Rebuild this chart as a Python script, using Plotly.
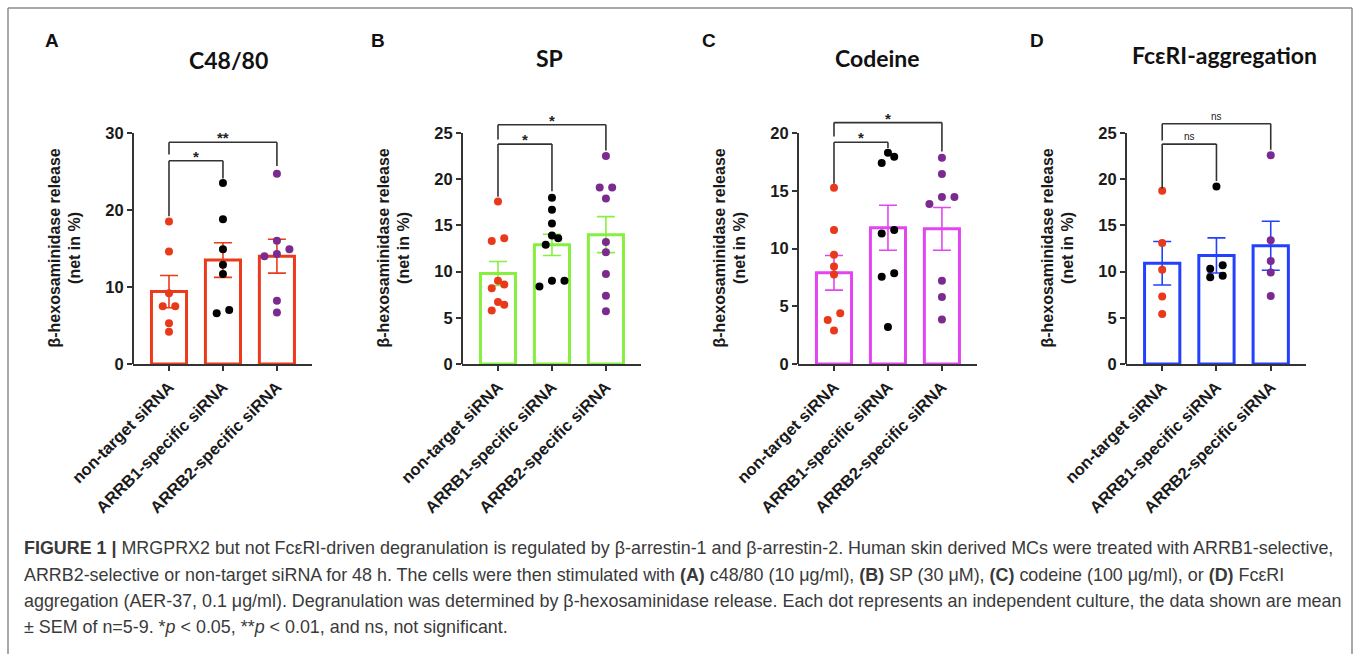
import plotly.graph_objects as go

# ---------------- data ----------------
categories = ["non-target siRNA", "ARRB1-specific siRNA", "ARRB2-specific siRNA"]

A_nt = [18.5, 14.6, 9.2, 7.5, 7.5, 5.3, 4.2]
A_b1 = [23.5, 18.8, 14.9, 12.9, 11.7, 7.0, 6.6]
A_b2 = [24.7, 16.0, 14.9, 14.3, 14.0, 8.2, 6.7]
A_mean = [9.4, 13.5, 14.0]
A_sem = [2.1, 2.25, 2.2]

B_nt = [17.6, 13.6, 13.3, 9.0, 8.6, 8.2, 6.7, 6.4, 5.8]
B_b1 = [18.0, 16.7, 15.2, 13.9, 13.6, 12.9, 9.0, 9.0, 8.4]
B_b2 = [22.5, 19.1, 19.1, 17.9, 13.2, 12.1, 9.75, 7.4, 5.7]
B_mean = [9.8, 12.9, 14.0]
B_sem = [1.3, 1.15, 1.95]

C_nt = [15.25, 11.6, 9.45, 8.45, 7.75, 4.4, 3.8, 2.9]
C_b1 = [18.3, 17.95, 17.4, 11.6, 11.3, 7.85, 7.55, 3.2]
C_b2 = [17.85, 16.45, 14.45, 14.45, 13.85, 7.2, 5.8, 3.85]
C_mean = [7.9, 11.8, 11.7]
C_sem = [1.5, 1.95, 1.85]

D_nt = [18.75, 13.1, 10.2, 7.3, 5.4]
D_b1 = [19.2, 10.7, 10.3, 9.55, 9.4]
D_b2 = [22.6, 13.4, 11.15, 9.9, 7.35]
D_mean = [10.9, 11.75, 12.8]
D_sem = [2.35, 1.9, 2.65]

y_max = [30, 25, 20, 25]
y_ticks = [[0, 10, 20, 30], [0, 5, 10, 15, 20, 25], [0, 5, 10, 15, 20], [0, 5, 10, 15, 20, 25]]
panel_letters = ["A", "B", "C", "D"]
panel_titles = ["C48/80", "SP", "Codeine", "FcεRI-aggregation"]
sig_labels = [["*", "**"], ["*", "*"], ["*", "*"], ["ns", "ns"]]

# ---------------- styling / layout ----------------
W, H = 1357, 654
bar_colors = ["#ec3a1c", "#86ef3f", "#e445f2", "#2340ff"]
dot_colors = ["#e8391b", "#000000", "#7b2b8f"]
panel_px = [(133, 312), (462, 641), (798, 977), (1126, 1306)]
y0_px, ytop_px = 364, 133
x_range = [-0.667, 2.65]
range_top = [30.6, 26.6, 21.6, 26.8]
letter_pos = [(52, 40), (378, 40), (709, 40), (1037, 40)]
title_pos = [(228, 60), (549, 58), (877, 58), (1224, 55)]
# brackets: (i, j, y_horizontal, y_left_end, y_right_end)
brackets = [
    [(0, 1, 26.4, 19.2, 24.1), (0, 2, 28.8, 27.2, 25.7)],
    [(0, 1, 23.8, 18.1, 18.7), (0, 2, 25.9, 24.3, 23.1)],
    [(0, 1, 19.2, 15.6, 18.7), (0, 2, 20.9, 19.7, 18.4)],
    [(0, 1, 23.8, 19.0, 19.8), (0, 2, 26.0, 24.2, 23.2)],
]

groups = [
    (A_nt, A_b1, A_b2, A_mean, A_sem),
    (B_nt, B_b1, B_b2, B_mean, B_sem),
    (C_nt, C_b1, C_b2, C_mean, C_sem),
    (D_nt, D_b1, D_b2, D_mean, D_sem),
]


def swarm(vals, px_per_unit, px_per_cat, diam=7.0, step_px=12.5):
    order = sorted(range(len(vals)), key=lambda i: vals[i])
    offs = [0.0] * len(vals)
    rows, cur = [], [order[0]]
    for i in order[1:]:
        if (vals[i] - vals[cur[0]]) * px_per_unit < diam:
            cur.append(i)
        else:
            rows.append(cur)
            cur = [i]
    rows.append(cur)
    step = step_px / px_per_cat
    for row in rows:
        n = len(row)
        for k, i in enumerate(row):
            offs[i] = (k - (n - 1) / 2) * step
    return offs


fig = go.Figure()
shapes, annotations = [], []
axis_font = dict(family="Liberation Sans, Arial", color="#1a1a1a", weight="bold")

for p in range(4):
    xa = "x" if p == 0 else f"x{p+1}"
    ya = "y" if p == 0 else f"y{p+1}"
    nt, b1, b2, mean, sem = groups[p]
    px0, px1 = panel_px[p]
    px_per_cat = (px1 - px0) / (x_range[1] - x_range[0])
    px_per_unit = (y0_px - ytop_px) / y_max[p]

    fig.add_trace(go.Bar(
        x=[0, 1, 2], y=mean, width=0.65, xaxis=xa, yaxis=ya,
        marker=dict(color="white", line=dict(color=bar_colors[p], width=3)),
        error_y=dict(type="data", array=sem, visible=True, color=bar_colors[p],
                     thickness=1.6, width=9),
        showlegend=False, hoverinfo="skip"))

    for g, vals in enumerate([nt, b1, b2]):
        offs = swarm(vals, px_per_unit, px_per_cat)
        fig.add_trace(go.Scatter(
            x=[g + o for o in offs], y=vals, mode="markers", xaxis=xa, yaxis=ya,
            marker=dict(color=dot_colors[g], size=8, line=dict(width=0)),
            showlegend=False, cliponaxis=False))

    top_px = y0_px - range_top[p] * px_per_unit
    dom_x = [px0 / W, px1 / W]
    dom_y = [1 - y0_px / H, 1 - top_px / H]
    fig.layout[("xaxis" if p == 0 else f"xaxis{p+1}")] = dict(
        domain=dom_x, range=x_range, anchor=ya, showline=True, linecolor="#333",
        linewidth=2, ticks="outside", ticklen=5, tickwidth=1.5, tickcolor="#333",
        tickvals=[0, 1, 2], ticktext=categories, tickangle=-45, automargin=False,
        tickfont=dict(size=16.5, **axis_font), showgrid=False, zeroline=False)
    fig.layout[("yaxis" if p == 0 else f"yaxis{p+1}")] = dict(
        domain=dom_y, range=[0, range_top[p]], anchor=xa, showline=False,
        ticks="outside", ticklen=5, tickwidth=1.5, tickcolor="#333", automargin=False,
        tickvals=y_ticks[p], tickfont=dict(size=16.5, **axis_font),
        showgrid=False, zeroline=False)

    # y axis line up to the last tick
    shapes.append(dict(type="line", xref=f"{xa} domain", yref=ya, x0=0, x1=0,
                       y0=0, y1=y_max[p], line=dict(color="#333", width=2)))

    # significance brackets
    for (i, j, yh, yl, yr), lab in zip(brackets[p], sig_labels[p]):
        for (xx0, yy0, xx1, yy1) in [(i, yl, i, yh), (i, yh, j, yh), (j, yh, j, yr)]:
            shapes.append(dict(type="line", xref=xa, yref=ya, x0=xx0, x1=xx1,
                               y0=yy0, y1=yy1, line=dict(color="#333", width=1.6)))
        is_ns = lab == "ns"
        annotations.append(dict(
            x=(i + j) / 2, y=yh, xref=xa, yref=ya, text=lab, showarrow=False,
            yanchor="bottom", yshift=(0 if is_ns else -6),
            font=dict(family="Liberation Sans, Arial", size=(10 if is_ns else 15),
                      color="#222", weight=("normal" if is_ns else "bold"))))

    # y axis title
    annotations.append(dict(
        x=(px0 - 69) / W, y=1 - ((y0_px + ytop_px) / 2) / H, xref="paper", yref="paper",
        text="β-hexosaminidase release<br>(net in %)", textangle=-90, showarrow=False,
        xanchor="center", yanchor="middle",
        font=dict(family="Liberation Sans, Arial", size=16, color="#1a1a1a", weight="bold")))

    # panel letter
    lx, ly = letter_pos[p]
    annotations.append(dict(x=lx / W, y=1 - ly / H, xref="paper", yref="paper",
                            text=panel_letters[p], showarrow=False,
                            xanchor="center", yanchor="middle",
                            font=dict(family="Liberation Sans, Arial", size=19,
                                      color="#111", weight="bold")))
    # panel title
    tx, ty = title_pos[p]
    annotations.append(dict(x=tx / W, y=1 - ty / H, xref="paper", yref="paper",
                            text=panel_titles[p], showarrow=False,
                            xanchor="center", yanchor="middle",
                            font=dict(family="Lato, Open Sans", size=23,
                                      color="#111", weight="bold")))

# caption
caption_lines = [
    "<b>FIGURE 1 |</b> MRGPRX2 but not FcεRI-driven degranulation is regulated by β-arrestin-1 and β-arrestin-2. Human skin derived MCs were treated with ARRB1-selective,",
    "ARRB2-selective or non-target siRNA for 48 h. The cells were then stimulated with <b>(A)</b> c48/80 (10 μg/ml), <b>(B)</b> SP (30 μM), <b>(C)</b> codeine (100 μg/ml), or <b>(D)</b> FcεRI",
    "aggregation (AER-37, 0.1 μg/ml). Degranulation was determined by β-hexosaminidase release. Each dot represents an independent culture, the data shown are mean",
    "± SEM of n=5-9. *<i>p</i> < 0.05, **<i>p</i> < 0.01, and ns, not significant.",
]
caption_y = [548, 575, 601, 627]
for line, cy in zip(caption_lines, caption_y):
    annotations.append(dict(x=22 / W, y=1 - cy / H, xref="paper", yref="paper",
                            text=line, showarrow=False, xanchor="left", yanchor="middle",
                            font=dict(family="Liberation Sans, Arial", size=17.9,
                                      color="#3a3a3a")))

# outer frame
frame_col = "#8c8c8c"
for (fx0, fy0, fx1, fy1) in [(8, 8, 1352, 8), (8, 8, 8, 654), (1352, 8, 1352, 654)]:
    shapes.append(dict(type="line", xref="paper", yref="paper",
                       x0=fx0 / W, x1=fx1 / W, y0=1 - fy0 / H, y1=1 - fy1 / H,
                       line=dict(color=frame_col, width=1.5)))

fig.update_layout(
    width=W, height=H, autosize=False,
    margin=dict(l=0, r=0, t=0, b=0, pad=0, autoexpand=False),
    paper_bgcolor="white", plot_bgcolor="white", showlegend=False,
    shapes=shapes, annotations=annotations, bargap=0.35,
)

fig.write_html(
    "out.html",
    config={"responsive": False, "displayModeBar": False},
    post_script="document.body.style.margin='0';document.body.style.padding='0';"
                "document.body.style.overflow='hidden';"
                "document.documentElement.style.overflow='hidden';",
)
